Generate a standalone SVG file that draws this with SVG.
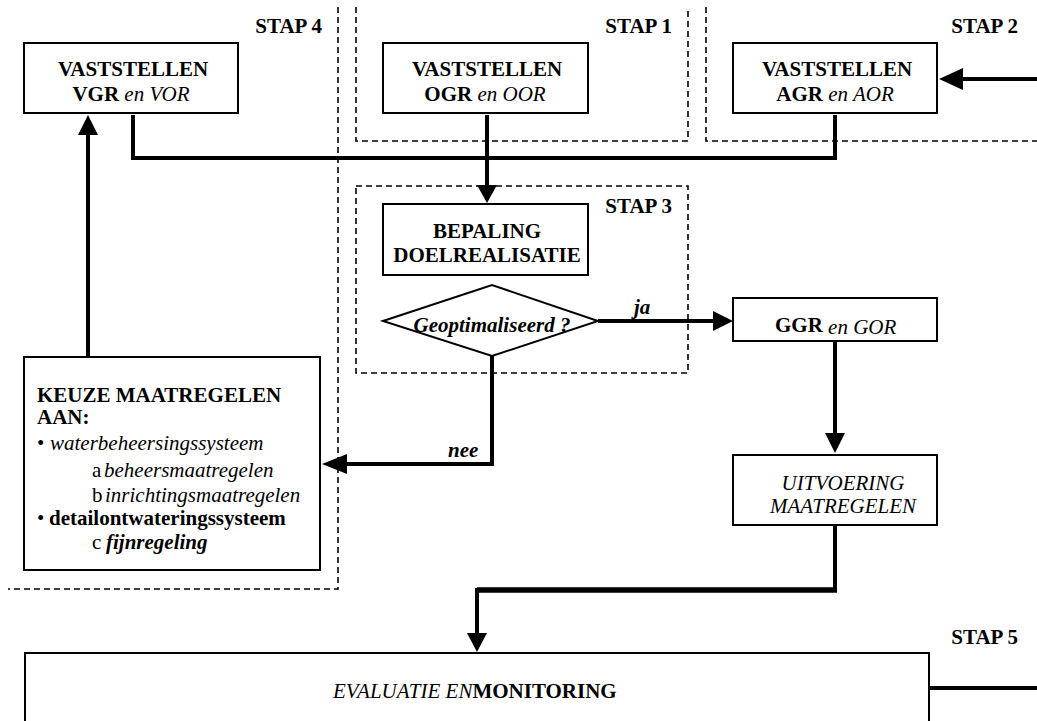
<svg xmlns="http://www.w3.org/2000/svg" width="1037" height="721" viewBox="0 0 1037 721">
<style>
text{font-family:"Liberation Serif","Times New Roman","DejaVu Serif",serif;font-size:21px;fill:#000}
.b{font-weight:bold}
.i{font-style:italic}
.bi{font-weight:bold;font-style:italic}
.box{fill:#fff;stroke:#000;stroke-width:2}
.dash{fill:none;stroke:#000;stroke-width:1.6;stroke-dasharray:6 4}
.con{fill:none;stroke:#000;stroke-width:4}
.ah{fill:#000;stroke:none}
</style>
<rect width="1037" height="721" fill="#fff"/>
<g id="stages">
<path class="dash" d="M338,7 V589 H8"/>
<path class="dash" d="M356,7 V141 H688 V7"/>
<path class="dash" d="M706,7 V141 H1037"/>
<rect class="dash" x="356" y="186" width="332" height="187"/>
<text class="b" x="322" y="33" text-anchor="end">STAP 4</text>
<text class="b" x="672" y="33" text-anchor="end">STAP 1</text>
<text class="b" x="1018" y="33" text-anchor="end">STAP 2</text>
<text class="b" x="672" y="213" text-anchor="end">STAP 3</text>
<text class="b" x="1018" y="644" text-anchor="end">STAP 5</text>
</g>
<g id="connectors">
<path class="con" d="M133,115 V158 H835 V115"/>
<path class="con" d="M487,115 V188"/>
<polygon class="ah" points="487,203 477,185 497,185"/>
<path class="con" d="M1037,79 H960"/>
<polygon class="ah" points="939,79 963,68 963,90"/>
<path class="con" d="M88,357 V132"/>
<polygon class="ah" points="88,115 78,135 98,135"/>
<path class="con" d="M598,321 H716"/>
<polygon class="ah" points="733,321 713,311 713,331"/>
<path class="con" d="M492,356 V464 H344"/>
<polygon class="ah" points="322,464 347,454 347,474"/>
<path class="con" d="M835,341 V436"/>
<polygon class="ah" points="835,453 825,433 845,433"/>
<path class="con" d="M835,525 V590"/>
<path fill="none" stroke="#000" stroke-width="5.5" d="M837,590 H477"/>
<path class="con" d="M477,588 V636"/>
<polygon class="ah" points="477,652 467,633 487,633"/>
<path class="con" d="M929,688 H1037"/>
<text class="bi" x="634" y="314">ja</text>
<text class="bi" x="448" y="457">nee</text>
</g>
<g id="vgr">
<rect class="box" x="24" y="43" width="214" height="70"/>
<text class="b" x="133" y="76" text-anchor="middle">VASTSTELLEN</text>
<text x="131" y="101" text-anchor="middle"><tspan class="b">VGR</tspan> <tspan class="i">en VOR</tspan></text>
</g>
<g id="ogr">
<rect class="box" x="383" y="43" width="205" height="70"/>
<text class="b" x="487" y="76" text-anchor="middle">VASTSTELLEN</text>
<text x="485" y="101" text-anchor="middle"><tspan class="b">OGR</tspan> <tspan class="i">en OOR</tspan></text>
</g>
<g id="agr">
<rect class="box" x="733" y="43" width="204" height="70"/>
<text class="b" x="837" y="76" text-anchor="middle">VASTSTELLEN</text>
<text x="835" y="101" text-anchor="middle"><tspan class="b">AGR</tspan> <tspan class="i">en AOR</tspan></text>
</g>
<g id="bepaling">
<rect class="box" x="383" y="204" width="205" height="71"/>
<text class="b" x="487" y="238" text-anchor="middle">BEPALING</text>
<text class="b" x="487" y="262" text-anchor="middle">DOELREALISATIE</text>
</g>
<g id="geoptimaliseerd">
<polygon class="box" points="383,321 492,285 598,321 492,356"/>
<text class="bi" x="492" y="332" text-anchor="middle">Geoptimaliseerd ?</text>
</g>
<g id="ggr">
<rect class="box" x="733" y="298" width="204" height="43"/>
<text x="775" y="332"><tspan class="b">GGR</tspan> <tspan class="i" dy="2">en GOR</tspan></text>
</g>
<g id="uitvoering">
<rect class="box" x="733" y="455" width="204" height="70"/>
<text class="i" x="843" y="490" text-anchor="middle">UITVOERING</text>
<text class="i" x="843" y="513" text-anchor="middle">MAATREGELEN</text>
</g>
<g id="keuze">
<rect class="box" x="24" y="357" width="296" height="213"/>
<text class="b" x="37" y="402">KEUZE MAATREGELEN</text>
<text class="b" x="37" y="424">AAN:</text>
<text x="37" y="450">•<tspan class="i" x="50">waterbeheersingssysteem</tspan></text>
<text x="92" y="477">a<tspan class="i" x="104">beheersmaatregelen</tspan></text>
<text x="92" y="502">b<tspan class="i" x="105">inrichtingsmaatregelen</tspan></text>
<text x="37" y="525">•<tspan class="b" x="49">detailontwateringssysteem</tspan></text>
<text x="92" y="549">c<tspan class="bi" x="106">fijnregeling</tspan></text>
</g>
<g id="evaluatie">
<rect class="box" x="25" y="653" width="904" height="90"/>
<text x="333" y="698"><tspan class="i">EVALUATIE EN</tspan><tspan class="b">MONITORING</tspan></text>
</g>
</svg>
